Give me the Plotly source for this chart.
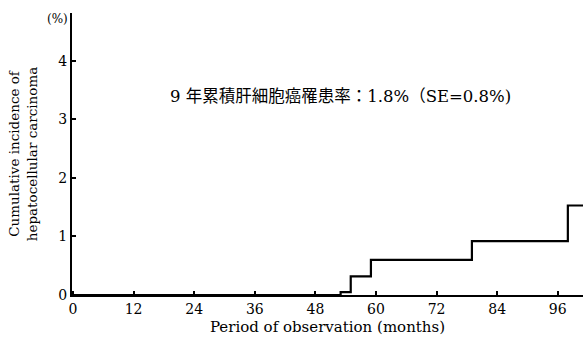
import plotly.graph_objects as go

months = [0, 53, 55, 59, 79, 98, 101]
incidence = [0, 0.05, 0.32, 0.60, 0.92, 1.53, 1.53]

x_ticks = [0, 12, 24, 36, 48, 60, 72, 84, 96]
y_ticks = [0, 1, 2, 3, 4]

serif = "DejaVu Serif, Liberation Serif, serif"
cjk = "DejaVu Serif, Noto Sans CJK JP, serif"

fig = go.Figure()
fig.add_trace(go.Scatter(
    x=months, y=incidence, mode="lines", line_shape="hv",
    line=dict(color="black", width=2.2), showlegend=False, hoverinfo="skip"))

fig.update_layout(
    width=583, height=340,
    margin=dict(l=72, r=0, t=13, b=45),
    plot_bgcolor="white", paper_bgcolor="white",
    font=dict(family=serif, size=13, color="black"),
    xaxis=dict(range=[-0.2, 101], tickvals=x_ticks, ticks="inside", ticklen=4,
               tickwidth=1.5, tickcolor="black", showline=True, linecolor="black",
               linewidth=2, showgrid=False, zeroline=False, automargin=False,
               tickfont=dict(family=serif, size=14, color="black"),
               title=dict(text="Period of observation (months)", standoff=6,
                          font=dict(family=serif, size=15, color="black"))),
    yaxis=dict(range=[0, 4.82], tickvals=y_ticks, ticks="inside", ticklen=4,
               tickwidth=1.5, tickcolor="black", showline=True, linecolor="black",
               linewidth=2, showgrid=False, zeroline=False, automargin=False,
               tickfont=dict(family=serif, size=14, color="black"),
               title=dict(text="Cumulative incidence of<br>hepatocellular carcinoma",
                          standoff=18, font=dict(family=serif, size=13.5, color="black"))),
)

fig.add_annotation(xref="paper", yref="paper", x=-0.004, y=0.978, text="(%)",
                   showarrow=False, xanchor="right", yanchor="middle",
                   font=dict(family=serif, size=12, color="black"))
fig.add_annotation(x=53, y=3.39, text="9 年累積肝細胞癌罹患率：1.8%（SE=0.8%)",
                   showarrow=False, xanchor="center", yanchor="middle",
                   font=dict(family=cjk, size=16.5, color="black"))

fig.write_html("out.html", config={"displayModeBar": False},
               post_script="document.body.style.margin='0';")
